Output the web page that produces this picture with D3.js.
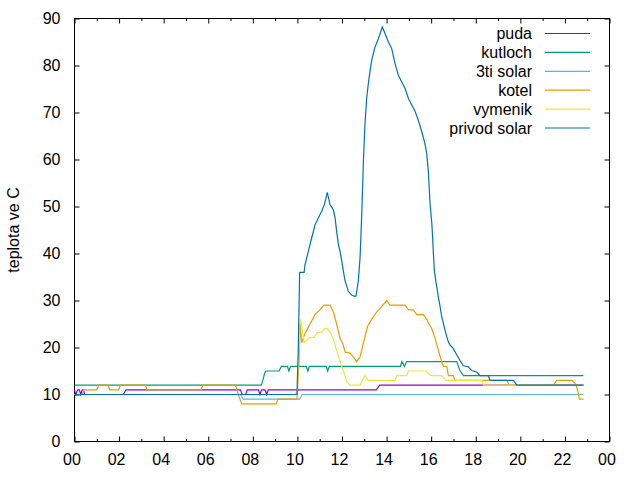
<!DOCTYPE html>
<html>
<head>
<meta charset="utf-8">
<script src="https://cdn.jsdelivr.net/npm/d3@7"></script>
<style>
  body { margin: 0; background: #fff; }
  text { font-family: "Liberation Sans", Arial, sans-serif; font-size: 16px; fill: #000; }
</style>
</head>
<body>
<script>
// hodiny (h) a teplota (C)
var names = ["puda", "kutloch", "3ti solar", "kotel", "vymenik", "privod solar"];
var colors = ["#9400d3", "#009e73", "#56b4e9", "#e69f00", "#f0e442", "#0072b2"];

var puda = [[0,11],[0.05,10],[0.15,11],[0.22,11],[0.28,10],[0.35,11],[0.4,11],[0.45,10],[2.19,10],[2.31,11],
  [7.45,11],[7.52,10],[7.68,10],[7.75,11],[8.25,11],[8.32,10],[8.39,11],[8.55,11],[8.62,10],[8.69,11],
  [13.54,11],[13.69,12],[22.83,12]];

var kutloch = [[0,12],[8.38,12],[8.45,13],[8.5,14],[8.57,15],[9.18,15],[9.28,16],[9.55,16],[9.62,15],[9.69,16],
  [10.4,16],[10.47,15],[10.54,16],[11.29,16],[11.36,15],[11.43,16],[14.62,16],[14.69,17],[14.8,16],[14.9,17],
  [17.15,17],[17.22,16],[17.3,15],[17.45,14],[22.83,14]];

var solar3 = [[0,10],[7.45,10],[7.57,9],[10.1,9],[10.22,10],[22.83,10]];

var kotel = [[0,10],[0.35,10],[0.42,11],[1.0,11],[1.1,12],[1.5,12],[1.58,11],[1.98,11],[2.06,12],[3.18,12],[3.25,11],
  [5.68,11],[5.76,12],[7.22,12],[7.35,10],[7.5,8],[9.05,8],[9.12,9],[9.98,9],[10.08,18],[10.12,25],[10.19,21],
  [10.34,23],[10.57,25],[10.79,27],[11.01,28],[11.19,29],[11.46,29],[11.61,27.6],[11.76,25],[11.91,22],[12.06,20.5],
  [12.14,19],[12.36,18.8],[12.51,18],[12.66,17],[12.81,18],[12.96,21],[13.14,24.4],[13.33,26],[13.56,27.6],[13.78,28.7],
  [14.01,30],[14.15,29],[14.83,29],[14.98,28],[15.2,28],[15.35,27],[15.65,27],[15.8,26],[15.9,25],[16.03,24],[16.17,22],
  [16.32,19.5],[16.47,17],[16.55,16],[16.7,16],[16.77,14],[16.99,14],[17.07,13],[19.39,13],[19.51,12],[21.48,12],
  [21.63,13],[22.31,13],[22.45,12.4],[22.52,11.7],[22.6,10.3],[22.65,9],[22.83,9]];

var vymenik = [[0,10],[9.9,10],[10.0,11],[10.1,24],[10.15,26],[10.3,21],[10.5,22],[10.75,22.2],[10.9,23.2],[11.1,23.2],
  [11.2,24],[11.35,24],[11.5,23],[11.65,21.2],[11.8,18.8],[11.95,16.6],[12.1,14.5],[12.22,12.7],[12.36,12],[12.81,12],
  [12.95,13.4],[13.03,14],[13.18,13],[14.38,13],[14.46,14],[14.9,14],[14.98,15],[15.78,15],[15.87,14.5],[16.0,14],
  [16.47,14],[16.65,13],[18.27,13],[18.35,12],[22.83,12]];

var privod = [[0,10],[9.98,10],[10.04,20],[10.1,36],[10.3,36],[10.34,37.6],[10.49,40.5],[10.64,43.3],[10.79,46.1],
  [10.94,47.6],[11.09,49],[11.21,50.4],[11.34,53],[11.46,50.4],[11.61,49.3],[11.69,47.6],[11.76,44.7],[11.84,41.9],
  [11.91,40.5],[11.99,38.4],[12.06,36.3],[12.14,34.1],[12.29,31.9],[12.44,31.1],[12.58,30.9],[12.63,31],[12.73,34.1],
  [12.81,39.1],[12.88,47.6],[12.96,59.7],[13.03,67.5],[13.11,73.2],[13.18,76.1],[13.26,78.9],[13.33,81.1],[13.48,83.9],
  [13.63,85.7],[13.81,88.2],[13.93,86.8],[14.08,85],[14.23,83.6],[14.38,80.4],[14.53,77.9],[14.68,76.5],[14.83,75.1],
  [14.98,73],[15.13,71.6],[15.28,70.2],[15.42,68.4],[15.58,65.9],[15.72,63.4],[15.8,61.3],[15.87,57.7],[15.95,50.6],
  [16.03,46.4],[16.07,42.9],[16.1,40],[16.14,36.5],[16.2,34.4],[16.25,32.9],[16.32,30.8],[16.4,28.7],[16.47,26.6],
  [16.55,25.1],[16.62,23.7],[16.7,22.3],[16.77,21.2],[16.85,20.5],[16.99,19.8],[17.15,18.4],[17.29,17.3],[17.44,16.1],
  [17.67,15.9],[17.82,15.1],[18.04,14.8],[18.19,14],[18.56,14],[18.64,13],[19.69,13],[19.84,12],[22.83,12]];

var series = [puda, kutloch, solar3, kotel, vymenik, privod];

var xTicks = [0,2,4,6,8,10,12,14,16,18,20,22,24];
var xMinor = [1,3,5,7,9,11,13,15,17,19,21,23];
var yTicks = [0,10,20,30,40,50,60,70,80,90];

var margin = {top: 18.5, left: 74.5},
    width = 535,
    height = 423;

var svg = d3.select("body").append("svg")
    .attr("width", 640)
    .attr("height", 480);

var g = svg.append("g")
    .attr("transform", "translate(" + margin.left + "," + margin.top + ")");

var x = d3.scaleLinear().domain([0, 24]).range([0, width]);
var y = d3.scaleLinear().domain([0, 90]).range([height, 0]);

var hh = function(d) { return d3.format("02d")(d % 24); };

// osy - dole, nahore, vlevo, vpravo
var bottom = g.append("g").attr("transform", "translate(0," + height + ")")
    .call(d3.axisBottom(x).tickValues(xTicks).tickFormat(hh).tickSize(-5).tickPadding(12));
bottom.selectAll(".tick text").attr("dx", -3);
g.append("g").attr("transform", "translate(0," + height + ")")
    .call(d3.axisBottom(x).tickValues(xMinor).tickFormat("").tickSize(-2.5));
g.append("g")
    .call(d3.axisTop(x).tickValues(xTicks).tickFormat("").tickSize(-5));
g.append("g")
    .call(d3.axisTop(x).tickValues(xMinor).tickFormat("").tickSize(-2.5));
g.append("g")
    .call(d3.axisLeft(y).tickValues(yTicks).tickSize(-5).tickPadding(14));
g.append("g").attr("transform", "translate(" + width + ",0)")
    .call(d3.axisRight(y).tickValues(yTicks).tickFormat("").tickSize(-5));

g.selectAll(".domain").remove();
g.selectAll(".tick line").attr("stroke", "#000");
g.selectAll(".tick text").style("font-size", "16px").style("font-family", "'Liberation Sans', Arial, sans-serif");

g.append("rect")
    .attr("width", width).attr("height", height)
    .attr("fill", "none").attr("stroke", "#000");

var line = d3.line()
    .x(function(d) { return x(d[0]); })
    .y(function(d) { return y(d[1]); });

g.selectAll(".serie")
    .data(series)
  .enter().append("path")
    .attr("class", "serie")
    .attr("d", line)
    .attr("fill", "none")
    .attr("stroke", function(d, i) { return colors[i]; })
    .attr("stroke-width", 1.2);

svg.append("text")
    .attr("transform", "translate(19," + (margin.top + height / 2) + ") rotate(-90)")
    .attr("text-anchor", "middle")
    .text("teplota ve C");

// legenda
var leg = svg.selectAll(".leg")
    .data(names)
  .enter().append("g")
    .attr("class", "leg")
    .attr("transform", function(d, i) { return "translate(0," + (33.5 + i * 18.9) + ")"; });

leg.append("text")
    .attr("x", 532)
    .attr("dy", "0.35em")
    .attr("text-anchor", "end")
    .text(function(d) { return d; });

leg.append("line")
    .attr("x1", 545).attr("x2", 590)
    .attr("stroke", function(d, i) { return colors[i]; })
    .attr("stroke-width", 1.2);
</script>
</body>
</html>
